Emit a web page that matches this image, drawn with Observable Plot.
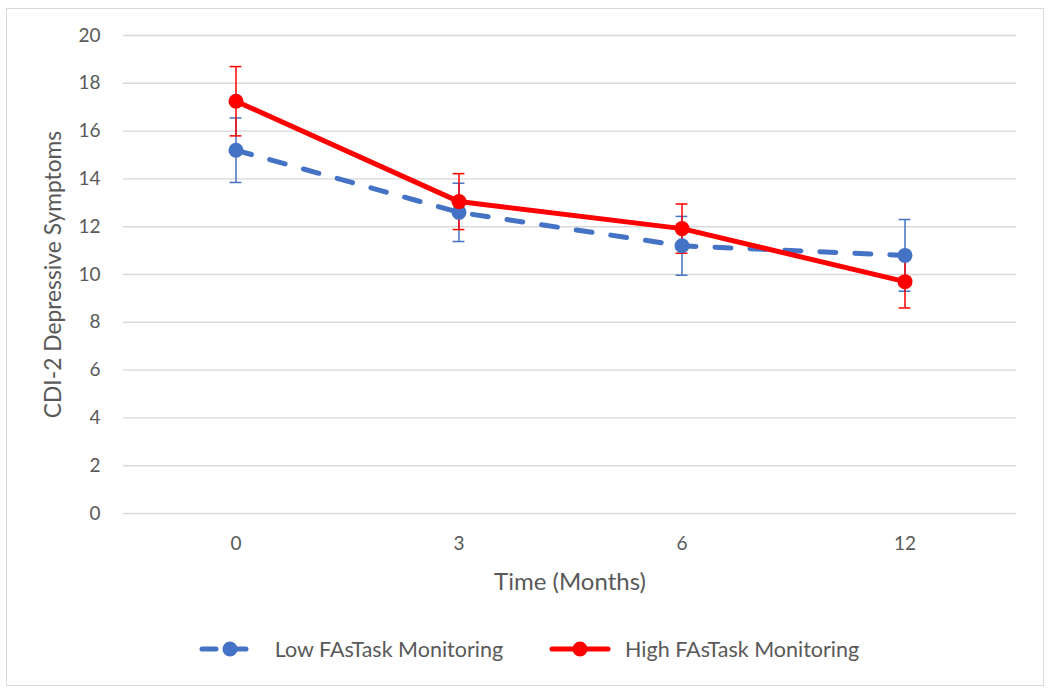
<!DOCTYPE html>
<html><head><meta charset="utf-8">
<script src="https://cdn.jsdelivr.net/npm/d3@7"></script>
<script src="https://cdn.jsdelivr.net/npm/@observablehq/plot@0.6"></script>
<style>
body{margin:0;background:#fff;font-family:Lato,sans-serif;}
#wrap{position:relative;width:1050px;height:696px;overflow:hidden}
#frame{position:absolute;left:6px;top:8px;width:1038px;height:678px;border:1px solid #d9d9d9;pointer-events:none;box-sizing:border-box}
#chart{position:absolute;left:0;top:0}
#legend{position:absolute;left:4px;top:634px;width:1050px;height:30px;display:flex;justify-content:center;align-items:center;gap:46px;color:#595959;font-size:21.5px}
.item{display:flex;align-items:center;gap:14px}
</style></head>
<body>
<div id="wrap"><div id="chart"></div><div id="legend"></div><div id="frame"></div></div>
<script>
const months = ["0", "3", "6", "12"];
const lowMean = [15.2, 12.6, 11.2, 10.8];
const lowErr = [1.35, 1.22, 1.23, 1.5];
const highMean = [17.25, 13.05, 11.92, 9.7];
const highErr = [1.45, 1.17, 1.03, 1.1];
const yTicks = [0, 2, 4, 6, 8, 10, 12, 14, 16, 18, 20];
const seriesNames = ["Low FAsTask Monitoring", "High FAsTask Monitoring"];
const blue = "#4472C4", red = "#FF0000";

const low = months.map((m, i) => ({month: m, mean: lowMean[i], err: lowErr[i]}));
const high = months.map((m, i) => ({month: m, mean: highMean[i], err: highErr[i]}));

const capInset = 105.6;
function errMarks(data, color) {
  return [
    Plot.ruleX(data, {x: "month", y1: d => d.mean - d.err, y2: d => d.mean + d.err, stroke: color, strokeWidth: 1.5}),
    Plot.tickY(data, {x: "month", y: d => d.mean + d.err, insetLeft: capInset, insetRight: capInset, stroke: color, strokeWidth: 1.5}),
    Plot.tickY(data, {x: "month", y: d => d.mean - d.err, insetLeft: capInset, insetRight: capInset, stroke: color, strokeWidth: 1.5})
  ];
}

const chart = Plot.plot({
  width: 1050, height: 610,
  marginTop: 35, marginBottom: 97, marginLeft: 123, marginRight: 34,
  style: {fontFamily: "Lato, sans-serif", fontSize: "19px", color: "#595959", background: "transparent"},
  x: {type: "band", domain: months, paddingInner: 0, paddingOuter: 0, align: 0.5},
  y: {domain: [0, 20]},
  marks: [
    Plot.gridY(yTicks, {stroke: "#d9d9d9", strokeOpacity: 1, strokeWidth: 1.4}),
    Plot.axisY(yTicks, {tickSize: 0, tickPadding: 23, label: null, fill: "#595959"}),
    Plot.axisY([], {tickSize: 0, label: "CDI-2 Depressive Symptoms", labelAnchor: "center", labelOffset: 79, labelArrow: "none", fontSize: 22.8, fill: "#595959"}),
    Plot.axisX(months, {tickSize: 0, tickPadding: 23, label: null, fill: "#595959"}),
    Plot.axisX([], {tickSize: 0, label: "Time (Months)", labelAnchor: "center", labelOffset: 76, labelArrow: "none", fontSize: 24, fill: "#595959"}),
    ...errMarks(low, blue),
    ...errMarks(high, red),
    Plot.line(low, {x: "month", y: "mean", stroke: blue, strokeWidth: 5, strokeDasharray: "16,19", strokeLinecap: "round"}),
    Plot.line(high, {x: "month", y: "mean", stroke: red, strokeWidth: 5, strokeLinecap: "round"}),
    Plot.dot(low, {x: "month", y: "mean", r: 7.5, fill: blue}),
    Plot.dot(high, {x: "month", y: "mean", r: 7.5, fill: red})
  ]
});
document.getElementById("chart").appendChild(chart);

const legend = document.getElementById("legend");
const swatch = (color, dashed) => `<svg width="62" height="16"><line x1="3" y1="8" x2="59" y2="8" stroke="${color}" stroke-width="5" stroke-linecap="round" ${dashed ? 'stroke-dasharray="14,16"' : ''}/><circle cx="31" cy="8" r="7.5" fill="${color}"/></svg>`;
legend.innerHTML = seriesNames.map((name, i) =>
  `<div class="item">${swatch(i === 0 ? blue : red, i === 0)}<span>${name}</span></div>`).join("");
</script>
</body></html>
